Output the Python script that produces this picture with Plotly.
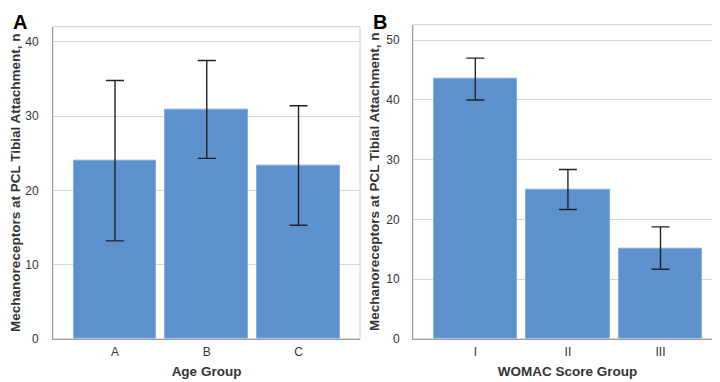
import plotly.graph_objects as go

W, H = 720, 382

# Panel A data
age_groups = ["A", "B", "C"]
age_means = [24.0, 30.9, 23.35]
age_upper = [34.8, 37.5, 31.4]
age_lower = [13.2, 24.3, 15.3]

# Panel B data
womac_groups = ["I", "II", "III"]
womac_means = [43.5, 24.95, 15.1]
womac_upper = [47.0, 28.35, 18.75]
womac_lower = [40.0, 21.65, 11.65]

y_ticks_a = [0, 10, 20, 30, 40]
y_ticks_b = [0, 10, 20, 30, 40, 50]

y_title = "Mechanoreceptors at PCL Tibial Attachment, n"

BAR = "rgb(92,145,206)"
EDGE = "rgb(130,175,225)"
FONT = "Liberation Sans, Arial, sans-serif"

fig = go.Figure()

def add_panel(xs, means, up, lo, xa, ya):
    fig.add_trace(go.Bar(
        x=xs, y=means, xaxis=xa, yaxis=ya, width=0.9,
        marker=dict(color=BAR, line=dict(color=EDGE, width=1)),
        error_y=dict(type="data", symmetric=False,
                     array=[u - m for u, m in zip(up, means)],
                     arrayminus=[m - l for m, l in zip(means, lo)],
                     color="#222222", thickness=1.4, width=9),
        showlegend=False, hoverinfo="skip"))

add_panel(age_groups, age_means, age_upper, age_lower, "x", "y")
add_panel(womac_groups, womac_means, womac_upper, womac_lower, "x2", "y2")

def px(x):
    return x / W

def py(y):
    return 1 - y / H

axis_common = dict(showline=True, linecolor="#9a9a9a", linewidth=1,
                   tickfont=dict(family=FONT, size=12, color="#333333"),
                   ticks="", zeroline=False)
title_font = dict(family=FONT, size=13.5, color="#333333", weight="bold")

fig.update_layout(
    width=W, height=H, margin=dict(l=0, r=0, t=0, b=0),
    paper_bgcolor="white", plot_bgcolor="white",
    font=dict(family=FONT),
    bargap=0,
    xaxis=dict(domain=[px(45), px(352)], anchor="y", range=[-0.676, 2.67],
               type="category", showgrid=False, ticklabelstandoff=2,
               title=dict(text="Age Group", font=title_font, standoff=8),
               **axis_common),
    yaxis=dict(domain=[py(337), py(19)], anchor="x", range=[0, 42.05],
               tickvals=y_ticks_a, showgrid=True, gridcolor="#d6d6d6", gridwidth=1,
               ticklabelstandoff=11,
               title=dict(text=y_title, font=title_font, standoff=2),
               **axis_common),
    xaxis2=dict(domain=[px(405), px(714)], anchor="y2", range=[-0.673, 2.664],
                type="category", showgrid=False, ticklabelstandoff=2,
                title=dict(text="WOMAC Score Group", font=title_font, standoff=8),
                **axis_common),
    yaxis2=dict(domain=[py(337), py(17)], anchor="x2", range=[0, 52.6],
                tickvals=y_ticks_b, showgrid=True, gridcolor="#d6d6d6", gridwidth=1,
                ticklabelstandoff=10,
                title=dict(text=y_title, font=title_font, standoff=3),
                **axis_common),
)

# light frame on top/right
for xa, ya in (("x", "y"), ("x2", "y2")):
    fig.add_shape(type="rect", xref=f"{xa} domain", yref=f"{ya} domain",
                  x0=0, x1=1, y0=0, y1=1, line=dict(color="#d0d0d0", width=1),
                  layer="below")

for label, x in (("A", 12), ("B", 372)):
    fig.add_annotation(text=f"<b>{label}</b>", x=px(x), y=py(14.5), xref="paper", yref="paper",
                       xanchor="center", yanchor="middle", showarrow=False,
                       font=dict(family=FONT, size=20, color="black"))

fig.write_html("out.html")
